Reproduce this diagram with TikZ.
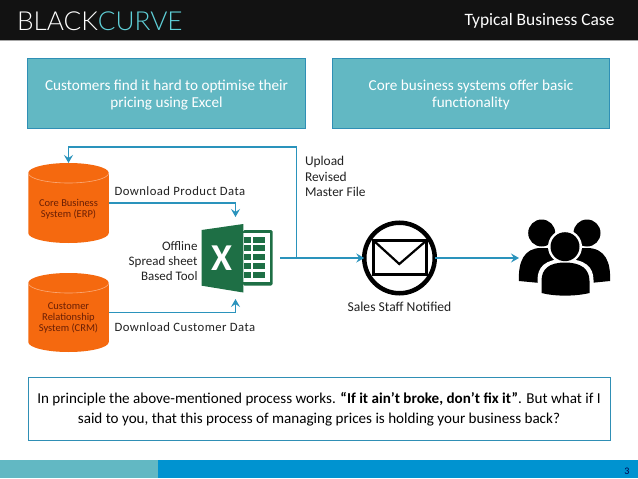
\documentclass[tikz,border=0pt]{standalone}
\usepackage{fontspec}
\usetikzlibrary{arrows.meta}
\setmainfont{Carlito}
\newfontfamily\logofont{Lato Light}
\newfontfamily\spaced[LetterSpace=3.5]{Carlito}
\definecolor{teal1}{HTML}{62B8C3}
\definecolor{edge1}{HTML}{2F8FB5}
\definecolor{wire}{HTML}{2A93BC}
\definecolor{barblue}{HTML}{0093D0}
\definecolor{orng}{HTML}{F5690F}
\definecolor{xlgreen}{HTML}{1E6F45}
\definecolor{txt}{HTML}{222222}
\definecolor{cyltxt}{HTML}{6A1F05}
\tikzset{
  every node/.style={inner sep=0pt,outer sep=0pt},
  topbox/.style={draw=edge1,line width=1pt,fill=teal1,text=white,font=\fontsize{15.2}{17.5}\selectfont,align=center,minimum width=277.5pt,minimum height=70pt,text depth=0pt},
  notebox/.style={draw=edge1,line width=1pt,fill=white,text=black,font=\fontsize{15.1}{20}\selectfont,align=center,minimum width=582pt,minimum height=63.5pt},
  db/.style={draw=none,fill=none,minimum width=80.5pt,minimum height=80pt},
  dbtext/.style={text=cyltxt,font=\fontsize{10.5}{11.3}\selectfont,align=center},
  wirepath/.style={draw=wire,line width=1.8pt,-{Stealth[length=8pt,width=9pt,inset=3pt]}},
  lab/.style={text=txt,font=\spaced\fontsize{12.7}{15}\selectfont,align=left},
  lab2/.style={text=txt,font=\fontsize{13}{14.7}\selectfont},
  ghost/.style={draw=none,fill=none},
  barrel/.style={fill=orng},
  rimline/.style={draw=orng!55!white,line width=0.6pt}
}
\begin{document}
\begin{tikzpicture}[x=1pt,y=-1pt]
\useasboundingbox (0,0) rectangle (638,479);
\fill[white] (0,0) rectangle (638,479);
% header
\fill[black!93] (0,0) rectangle (638,40);
\fill[black!35] (0,40) rectangle (638,41);
\node[anchor=west,text=white,font=\logofont\fontsize{26.2}{26.2}\selectfont] (logo) at (17,21.5) {BLACK\textcolor[HTML]{5FD0D8}{CURVE}};
\node[anchor=east,text=white,font=\fontsize{17.4}{18}\selectfont] (title) at (614.5,21) {Typical Business Case};
% top boxes
\node[topbox] (b1) at (166.5,93.5) {Customers find it hard to optimise their\\pricing using Excel};
\node[topbox] (b2) at (471,93.5) {Core business systems offer basic\\functionality};
% databases
\fill[barrel] (28.25,173) -- (28.25,233) arc[start angle=180,end angle=360,x radius=40.25pt,y radius=10pt] -- (108.75,173) arc[start angle=0,end angle=180,x radius=40.25pt,y radius=10pt] -- cycle;
\fill[barrel] (28.25,283) -- (28.25,342) arc[start angle=180,end angle=360,x radius=40.25pt,y radius=10pt] -- (108.75,283) arc[start angle=0,end angle=180,x radius=40.25pt,y radius=10pt] -- cycle;
\draw[rimline] (28.25,173) arc[start angle=180,end angle=360,x radius=40.25pt,y radius=10pt];
\draw[rimline] (28.25,283) arc[start angle=180,end angle=360,x radius=40.25pt,y radius=10pt];
\node[db] (erp) at (68.5,203) {};
\node[db] (crm) at (68.5,312.5) {};
\node[dbtext] (erpt) at (68.5,209) {Core Business\\System (ERP)};
\node[dbtext] (crmt) at (68.5,318) {Customer\\Relationship\\System (CRM)};
% anchors
\node[ghost,minimum width=89pt,minimum height=82pt] (xl) at (235.5,258) {};
\node[circle,draw=black,line width=4.5pt,fill=white,minimum size=70.5pt] (mail) at (399.5,258) {};
\node[ghost,minimum width=91pt,minimum height=76pt] (people) at (564.5,258) {};
\coordinate (jct) at (296.5,258);
\coordinate (fb) at (68.5,147);
% excel icon
\fill[xlgreen,rounded corners=1.5pt] (243,230) rectangle (272.7,285.5);
\fill[white] (243,233.2) rectangle (269.5,282.3);
\foreach \yy in {236.5,245,253.8,262.5,271.5}{
  \fill[xlgreen] (243.5,\yy) rectangle (250.5,\yy+6.3);
  \fill[xlgreen] (253.2,\yy) rectangle (265,\yy+6.3);
}
\fill[xlgreen] (201.7,230) -- (243.3,224) -- (243.3,292.5) -- (201.7,285.7) -- cycle;
\node[text=white,font=\bfseries\fontsize{38}{38}\selectfont] (xletter) at (221.5,258) {X};
% envelope
\draw[black,line width=2.6pt] (373.5,240.5) rectangle (426.5,274.5);
\draw[black,line width=2.2pt] (373.5,240.5) -- (399.3,264) -- (426.5,240.5);
% people
\fill[black] (541.7,233) circle[radius=13.5pt];
\fill[black] (587,233) circle[radius=13.5pt];
\fill[black] (519,281) .. controls (518,262) and (524,248) .. (541,248) -- (587,248) .. controls (605,248) and (611,262) .. (610,281) -- (590,283) -- (540,283) -- cycle;
\fill[white] (565,246.7) circle[radius=17pt];
\fill[white] (537.5,295) -- (537.5,280) .. controls (537.5,267) and (545,259) .. (565,259) .. controls (585,259) and (593.5,267) .. (593.5,280) -- (593.5,295) -- cycle;
\fill[black] (565,246.7) circle[radius=14.5pt];
\fill[black] (541.5,293) -- (541.5,281) .. controls (541.5,269) and (549,262.5) .. (565,262.5) .. controls (581,262.5) and (589.5,269) .. (589.5,281) -- (589.5,293) .. controls (575,296.5) and (555,296.5) .. (541.5,293) -- cycle;
% connectors
\draw[wirepath] (erp.east) -| (xl.north);
\draw[wirepath] (crm.east) -| (xl.south);
\draw[wirepath] (xl.east) -- (mail.west);
\draw[wirepath] (mail.east) -- (people.west);
\draw[wirepath] (jct) |- (fb) -- (erp.north);
% labels
\node[lab,anchor=west] (l1) at (114.5,191) {Download Product Data};
\node[lab,anchor=west] (l2) at (114.5,327) {Download Customer Data};
\node[lab2,anchor=east,align=right] (l3) at (197.5,261) {Offline\\Spread sheet\\Based Tool};
\node[anchor=north west,text=txt,font=\fontsize{13.4}{15.5}\selectfont,align=left] (l4) at (305,156.5) {Upload\\Revised\\Master File};
\node[text=txt,font=\fontsize{13.6}{15}\selectfont] (l5) at (399.5,306.5) {Sales Staff Notified};
% bottom note
\node[notebox] (note) at (319,409) {In principle the above-mentioned process works. \textbf{“If it ain’t broke, don’t fix it”}. But what if I\\said to you, that this process of managing prices is holding your business back?};
% footer
\fill[teal1] (0,460) rectangle (158,478);
\fill[barblue] (158,460) rectangle (638,478);
\node[text=black!70!blue,font=\fontsize{10}{10}\selectfont] (pg) at (627,471) {3};
\end{tikzpicture}
\end{document}
